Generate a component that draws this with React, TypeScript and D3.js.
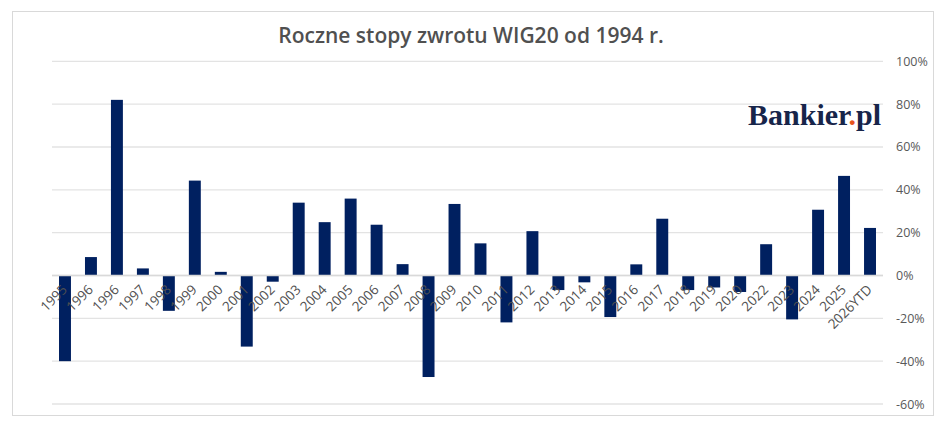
import React from "react";
import * as d3 from "d3";

const categories = ["1995","1996","1996","1997","1998","1999","2000","2001","2002","2003","2004","2005","2006","2007","2008","2009","2010","2011","2012","2013","2014","2015","2016","2017","2018","2019","2020","2022","2023","2024","2025","2026YTD"];
const values = [-40, 8.6, 82, 3.3, -16.5, 44.3, 1.7, -33.2, -2.9, 34, 24.9, 35.9, 23.7, 5.3, -47.4, 33.4, 15, -21.9, 20.7, -6.8, -3.2, -19.4, 5.2, 26.5, -6.8, -5.6, -7.7, 14.6, -20.5, 30.7, 46.5, 22.2];
const yTicks = [100, 80, 60, 40, 20, 0, -20, -40, -60];

const W = 948, H = 426;
const left = 52, right = 883, top = 61.3, bottom = 404;
const grey = "#595959";

export default function App() {
  const x = d3.scaleBand<number>().domain(d3.range(categories.length)).range([left, right]).paddingInner(0.54).paddingOuter(0.27);
  const y = d3.scaleLinear().domain([-60, 100]).range([bottom, top]);
  const bw = x.bandwidth();
  return (
    <svg width={W} height={H} style={{ position: "absolute", left: 0, top: 0, background: "#fff" }}>
      <rect x={12.5} y={11.5} width={921} height={404} fill="#fff" stroke="#d9d9d9" />
      <text x={471} y={43} textAnchor="middle" fontFamily="Open Sans" fontWeight={600} fontSize={21} fill="#505050">Roczne stopy zwrotu WIG20 od 1994 r.</text>
      {yTicks.map(t => (
        <g key={t}>
          <line x1={left} x2={right} y1={y(t)} y2={y(t)} stroke="#e3e3e3" strokeWidth={1.3} />
          <text x={896} y={y(t) + 4.5} fontFamily="Open Sans" fontSize={12.5} fill={grey}>{t}%</text>
        </g>
      ))}
      {values.map((v, i) => (
        <rect key={i} x={x(i)!} width={bw} y={y(Math.max(0, v))} height={Math.abs(y(v) - y(0))} fill="#002060" />
      ))}
      <line x1={left} x2={right} y1={y(0)} y2={y(0)} stroke="#d9d9d9" strokeWidth={1.3} />
      {categories.map((c, i) => {
        const cx = x(i)! + bw / 2 + 3;
        const cy = y(0) + 15;
        return (
          <text key={i} x={cx} y={cy} transform={`rotate(-45 ${cx} ${cy})`} textAnchor="end" fontFamily="Open Sans" fontSize={13.5} fill="#505050">{c}</text>
        );
      })}
      <text x={748} y={125} fontFamily="Liberation Serif" fontWeight={700} fontSize={30} fill="#17254a">
        Bankier<tspan fill="#e8541e">.</tspan>pl
      </text>
    </svg>
  );
}
